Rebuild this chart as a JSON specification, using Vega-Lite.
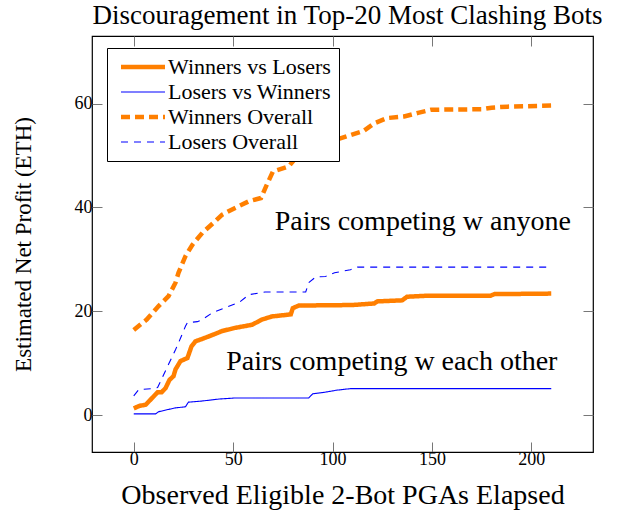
{
  "$schema": "https://vega.github.io/schema/vega-lite/v6.json",
  "width": 501,
  "height": 416,
  "autosize": {"type": "none"},
  "padding": {"left": 92, "top": 36, "right": 24, "bottom": 62},
  "title": {"text": "Discouragement in Top-20 Most Clashing Bots", "font": "Liberation Serif", "fontSize": 27, "fontWeight": "normal", "color": "#000", "anchor": "middle", "offset": 6, "dx": 5},
  "config": {
    "view": {"stroke": "#000", "strokeWidth": 1.2},
    "font": "Liberation Serif",
    "axis": {"domain": false, "grid": false, "tickColor": "#777", "tickSize": -10, "tickWidth": 1, "labelFont": "Liberation Serif", "labelFontSize": 18, "labelColor": "#000", "titleFont": "Liberation Serif", "titleFontSize": 28, "titleFontWeight": "normal", "titleColor": "#000"},
    "legend": {"labelFont": "Liberation Serif", "labelFontSize": 22, "labelColor": "#000", "labelLimit": 400}
  },
  "datasets": {
    "lines": [
      {"series": "Winners vs Losers", "x": 0, "y": 1.3},
      {"series": "Winners vs Losers", "x": 3, "y": 1.8},
      {"series": "Winners vs Losers", "x": 6, "y": 2.0},
      {"series": "Winners vs Losers", "x": 9, "y": 3.2},
      {"series": "Winners vs Losers", "x": 12, "y": 4.4},
      {"series": "Winners vs Losers", "x": 14, "y": 4.4},
      {"series": "Winners vs Losers", "x": 16, "y": 5.2},
      {"series": "Winners vs Losers", "x": 18, "y": 6.8},
      {"series": "Winners vs Losers", "x": 20, "y": 7.5},
      {"series": "Winners vs Losers", "x": 21, "y": 8.8},
      {"series": "Winners vs Losers", "x": 23.5, "y": 10.4},
      {"series": "Winners vs Losers", "x": 27, "y": 11.0},
      {"series": "Winners vs Losers", "x": 29, "y": 13.2},
      {"series": "Winners vs Losers", "x": 31, "y": 14.2},
      {"series": "Winners vs Losers", "x": 36, "y": 14.9},
      {"series": "Winners vs Losers", "x": 40, "y": 15.5},
      {"series": "Winners vs Losers", "x": 44.5, "y": 16.2},
      {"series": "Winners vs Losers", "x": 51, "y": 16.8},
      {"series": "Winners vs Losers", "x": 59.5, "y": 17.4},
      {"series": "Winners vs Losers", "x": 64.5, "y": 18.4},
      {"series": "Winners vs Losers", "x": 69.5, "y": 19.0},
      {"series": "Winners vs Losers", "x": 79, "y": 19.4},
      {"series": "Winners vs Losers", "x": 80, "y": 20.6},
      {"series": "Winners vs Losers", "x": 83, "y": 21.1},
      {"series": "Winners vs Losers", "x": 110, "y": 21.2},
      {"series": "Winners vs Losers", "x": 121, "y": 21.5},
      {"series": "Winners vs Losers", "x": 122.5, "y": 21.9},
      {"series": "Winners vs Losers", "x": 135, "y": 22.1},
      {"series": "Winners vs Losers", "x": 137.5, "y": 22.8},
      {"series": "Winners vs Losers", "x": 148, "y": 23.0},
      {"series": "Winners vs Losers", "x": 179.5, "y": 23.0},
      {"series": "Winners vs Losers", "x": 181.5, "y": 23.3},
      {"series": "Winners vs Losers", "x": 210, "y": 23.4},
      {"series": "Losers vs Winners", "x": 0, "y": 0.25},
      {"series": "Losers vs Winners", "x": 11, "y": 0.25},
      {"series": "Losers vs Winners", "x": 12.5, "y": 0.65},
      {"series": "Losers vs Winners", "x": 17.5, "y": 1.1},
      {"series": "Losers vs Winners", "x": 21, "y": 1.4},
      {"series": "Losers vs Winners", "x": 26, "y": 1.6},
      {"series": "Losers vs Winners", "x": 27.5, "y": 2.5},
      {"series": "Losers vs Winners", "x": 34, "y": 2.7},
      {"series": "Losers vs Winners", "x": 43, "y": 3.1},
      {"series": "Losers vs Winners", "x": 51, "y": 3.3},
      {"series": "Losers vs Winners", "x": 88, "y": 3.3},
      {"series": "Losers vs Winners", "x": 90, "y": 4.1},
      {"series": "Losers vs Winners", "x": 96, "y": 4.4},
      {"series": "Losers vs Winners", "x": 102, "y": 4.8},
      {"series": "Losers vs Winners", "x": 109, "y": 5.1},
      {"series": "Losers vs Winners", "x": 210, "y": 5.1},
      {"series": "Winners Overall", "x": 0, "y": 16.4},
      {"series": "Winners Overall", "x": 6.5, "y": 18.4},
      {"series": "Winners Overall", "x": 12.5, "y": 21.0},
      {"series": "Winners Overall", "x": 17.5, "y": 22.9},
      {"series": "Winners Overall", "x": 21, "y": 25.5},
      {"series": "Winners Overall", "x": 22.5, "y": 27.4},
      {"series": "Winners Overall", "x": 26, "y": 30.6},
      {"series": "Winners Overall", "x": 29.5, "y": 32.8},
      {"series": "Winners Overall", "x": 34.5, "y": 35.1},
      {"series": "Winners Overall", "x": 40, "y": 37.0},
      {"series": "Winners Overall", "x": 44.5, "y": 38.6},
      {"series": "Winners Overall", "x": 51, "y": 39.9},
      {"series": "Winners Overall", "x": 58, "y": 41.2},
      {"series": "Winners Overall", "x": 64, "y": 41.8},
      {"series": "Winners Overall", "x": 66.5, "y": 44.0},
      {"series": "Winners Overall", "x": 70, "y": 46.9},
      {"series": "Winners Overall", "x": 78, "y": 47.9},
      {"series": "Winners Overall", "x": 82.5, "y": 50.0},
      {"series": "Winners Overall", "x": 87.5, "y": 51.3},
      {"series": "Winners Overall", "x": 95, "y": 52.0},
      {"series": "Winners Overall", "x": 102.5, "y": 53.1},
      {"series": "Winners Overall", "x": 109, "y": 53.9},
      {"series": "Winners Overall", "x": 115.5, "y": 54.7},
      {"series": "Winners Overall", "x": 121, "y": 56.2},
      {"series": "Winners Overall", "x": 127.5, "y": 57.2},
      {"series": "Winners Overall", "x": 136, "y": 57.5},
      {"series": "Winners Overall", "x": 143, "y": 58.2},
      {"series": "Winners Overall", "x": 149.5, "y": 58.8},
      {"series": "Winners Overall", "x": 175, "y": 58.9},
      {"series": "Winners Overall", "x": 180, "y": 59.2},
      {"series": "Winners Overall", "x": 188, "y": 59.4},
      {"series": "Winners Overall", "x": 210, "y": 59.6},
      {"series": "Losers Overall", "x": 0, "y": 3.7},
      {"series": "Losers Overall", "x": 2.5, "y": 4.9},
      {"series": "Losers Overall", "x": 9.5, "y": 5.1},
      {"series": "Losers Overall", "x": 12, "y": 5.3},
      {"series": "Losers Overall", "x": 17.5, "y": 9.8},
      {"series": "Losers Overall", "x": 21, "y": 12.6},
      {"series": "Losers Overall", "x": 22.5, "y": 13.9},
      {"series": "Losers Overall", "x": 26, "y": 17.1},
      {"series": "Losers Overall", "x": 27, "y": 17.8},
      {"series": "Losers Overall", "x": 32, "y": 18.0},
      {"series": "Losers Overall", "x": 34.5, "y": 18.4},
      {"series": "Losers Overall", "x": 39.5, "y": 19.7},
      {"series": "Losers Overall", "x": 46, "y": 20.7},
      {"series": "Losers Overall", "x": 53, "y": 21.7},
      {"series": "Losers Overall", "x": 58, "y": 23.2},
      {"series": "Losers Overall", "x": 66, "y": 23.7},
      {"series": "Losers Overall", "x": 86.5, "y": 23.7},
      {"series": "Losers Overall", "x": 88, "y": 25.5},
      {"series": "Losers Overall", "x": 91.5, "y": 26.6},
      {"series": "Losers Overall", "x": 96.5, "y": 26.7},
      {"series": "Losers Overall", "x": 101, "y": 27.4},
      {"series": "Losers Overall", "x": 109, "y": 28.0},
      {"series": "Losers Overall", "x": 112.5, "y": 28.5},
      {"series": "Losers Overall", "x": 210, "y": 28.5}
    ],
    "notes": [
      {"x": 145.4, "y": 37.2, "label": "Pairs competing w anyone"},
      {"x": 129.8, "y": 10.3, "label": "Pairs competing w each other"}
    ]
  },
  "layer": [
    {
      "data": {"name": "lines"},
      "mark": {"type": "line", "strokeJoin": "miter", "strokeCap": "butt"},
      "encoding": {
        "x": {"field": "x", "type": "quantitative", "scale": {"domain": [-21, 231], "nice": false, "zero": false}, "axis": {"values": [0, 50, 100, 150, 200], "title": "Observed Eligible 2-Bot PGAs Elapsed", "labelPadding": 8, "titlePadding": 13}},
        "y": {"field": "y", "type": "quantitative", "scale": {"domain": [-7.1, 73], "nice": false, "zero": false}, "axis": {"values": [0, 20, 40, 60], "title": "Estimated Net Profit (ETH)", "titleFontSize": 23, "labelPadding": 10, "titlePadding": 39}},
        "color": {"field": "series", "type": "nominal", "scale": {"domain": ["Winners vs Losers", "Losers vs Winners", "Winners Overall", "Losers Overall"], "range": ["#ff7f00", "#0000ff", "#ff7f00", "#0000ff"]}, "legend": {"orient": "none", "legendX": 15, "legendY": 12, "title": null, "symbolType": "M-1,0H7.8", "symbolSize": 100, "symbolOffset": 0, "strokeColor": "#000", "fillColor": "#fff", "padding": 8, "labelOffset": 31, "rowPadding": 3}},
        "strokeDash": {"field": "series", "type": "nominal", "scale": {"domain": ["Winners vs Losers", "Losers vs Winners", "Winners Overall", "Losers Overall"], "range": [[1, 0], [1, 0], [9, 5], [7, 6]]}, "legend": {"orient": "none", "legendX": 15, "legendY": 12, "title": null, "symbolType": "M-1,0H7.8", "symbolSize": 100, "symbolOffset": 0, "strokeColor": "#000", "fillColor": "#fff", "padding": 8, "labelOffset": 31, "rowPadding": 3}},
        "strokeWidth": {"field": "series", "type": "nominal", "scale": {"type": "ordinal", "domain": ["Winners vs Losers", "Losers vs Winners", "Winners Overall", "Losers Overall"], "range": [4.5, 1.1, 4.5, 1.1]}, "legend": {"orient": "none", "legendX": 15, "legendY": 12, "title": null, "symbolType": "M-1,0H7.8", "symbolSize": 100, "symbolOffset": 0, "strokeColor": "#000", "fillColor": "#fff", "padding": 8, "labelOffset": 31, "rowPadding": 3}}
      }
    },
    {
      "data": {"name": "notes"},
      "mark": {"type": "text", "font": "Liberation Serif", "fontSize": 28, "align": "center", "baseline": "middle", "color": "#000"},
      "encoding": {
        "x": {"field": "x", "type": "quantitative", "axis": null},
        "y": {"field": "y", "type": "quantitative", "axis": null},
        "text": {"field": "label"}
      }
    },
    {
      "data": {"name": "notes"},
      "mark": {"type": "point", "opacity": 0},
      "encoding": {
        "x": {"field": "x", "type": "quantitative", "axis": {"orient": "top", "values": [0, 50, 100, 150, 200], "labels": false, "title": null}},
        "y": {"field": "y", "type": "quantitative", "axis": {"orient": "right", "values": [0, 20, 40, 60], "labels": false, "title": null}}
      }
    }
  ],
  "resolve": {"axis": {"x": "independent", "y": "independent"}}
}
